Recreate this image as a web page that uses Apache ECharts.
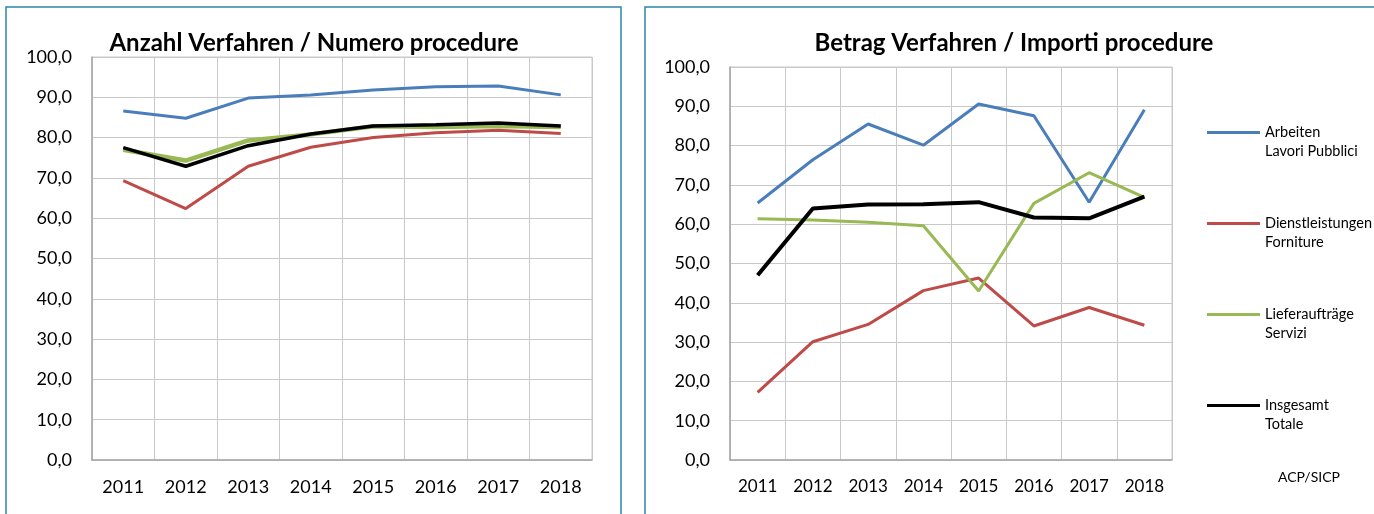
<!DOCTYPE html>
<html>
<head>
<meta charset="utf-8">
<script src="https://cdn.jsdelivr.net/npm/echarts@6/dist/echarts.min.js"></script>
<style>
html,body{margin:0;padding:0;background:#fff;}
#c{width:1374px;height:514px;}
</style>
</head>
<body>
<div id="c"></div>
<script>
var categories = ['2011','2012','2013','2014','2015','2016','2017','2018'];
var yTicks = [0,10,20,30,40,50,60,70,80,90,100];
var seriesNamesDe = ['Arbeiten','Dienstleistungen','Lieferaufträge','Insgesamt'];
var seriesNamesIt = ['Lavori Pubblici','Forniture','Servizi','Totale'];
var titleLeft = 'Anzahl Verfahren / Numero procedure';
var titleRight = 'Betrag Verfahren / Importi procedure';
var sourceNote = 'ACP/SICP';

// Anzahl Verfahren / Numero procedure
var leftArbeiten = [86.6, 84.8, 89.8, 90.6, 91.8, 92.6, 92.8, 90.6];
var leftDienst   = [69.3, 62.4, 72.9, 77.6, 80.0, 81.2, 81.8, 81.0];
var leftLiefer   = [77.0, 74.3, 79.3, 80.8, 82.8, 82.6, 82.9, 82.6];
var leftGesamt   = [77.5, 72.9, 78.0, 80.9, 82.9, 83.2, 83.6, 82.9];

// Betrag Verfahren / Importi procedure
var rightArbeiten = [65.4, 76.4, 85.5, 80.1, 90.6, 87.6, 65.6, 89.1];
var rightDienst   = [17.2, 30.1, 34.5, 43.1, 46.3, 34.1, 38.8, 34.3];
var rightLiefer   = [61.4, 61.1, 60.5, 59.6, 43.0, 65.3, 73.1, 66.8];
var rightGesamt   = [47.0, 64.0, 65.0, 65.1, 65.6, 61.7, 61.5, 67.0];

var colors = ['#4A7EBB', '#BE4B48', '#98B954', '#000000'];
var leftWidths = [3, 3, 4.5, 3.5];
var rightWidths = [3, 3, 3, 4];

var FONT = 'Lato';
var yMin = yTicks[0], yMax = yTicks[yTicks.length-1], yStep = yTicks[1]-yTicks[0];

function fmt(v){ return v.toFixed(1).replace('.', ','); }

function xAxis(gi, size){
  return {
    type:'category', gridIndex:gi, data:categories, boundaryGap:true,
    axisLine:{show:true, lineStyle:{color:'#A6A6A6', width:1.5}},
    axisTick:{show:false},
    axisLabel:{color:'#000', fontFamily:FONT, fontSize:size, margin:18},
    splitLine:{show:true, lineStyle:{color:'#C9C9C9', width:1}}
  };
}
function yAxis(gi){
  return {
    type:'value', gridIndex:gi, min:yMin, max:yMax, interval:yStep,
    axisLine:{show:true, lineStyle:{color:'#A6A6A6', width:1.5}},
    axisTick:{show:false},
    axisLabel:{color:'#000', fontFamily:FONT, fontSize:18, margin:20, formatter:fmt},
    splitLine:{show:true, lineStyle:{color:'#C9C9C9', width:1}}
  };
}

var leftData = [leftArbeiten, leftDienst, leftLiefer, leftGesamt];
var rightData = [rightArbeiten, rightDienst, rightLiefer, rightGesamt];
var series = [];
seriesNamesDe.forEach(function(n,i){
  series.push({name:n, type:'line', xAxisIndex:0, yAxisIndex:0, data:leftData[i],
    symbol:'none', lineStyle:{color:colors[i], width:leftWidths[i]}, itemStyle:{color:colors[i]}, z:2+i});
});
seriesNamesDe.forEach(function(n,i){
  series.push({name:n, type:'line', xAxisIndex:1, yAxisIndex:1, data:rightData[i],
    symbol:'none', lineStyle:{color:colors[i], width:rightWidths[i]}, itemStyle:{color:colors[i]}, z:2+i});
});

var chart = echarts.init(document.getElementById('c'), null, {renderer:'canvas'});
chart.setOption({
  animation:false,
  backgroundColor:'#ffffff',
  title:[
    {text:titleLeft, left:314, top:31, textAlign:'center', padding:0,
     textStyle:{fontFamily:FONT, fontWeight:'bold', fontSize:24, color:'#000'}},
    {text:titleRight, left:1014, top:31, textAlign:'center', padding:0,
     textStyle:{fontFamily:FONT, fontWeight:'bold', fontSize:24, color:'#000'}}
  ],
  grid:[
    {left:92, top:57, width:500, height:403, show:true, borderColor:'#C9C9C9', borderWidth:1},
    {left:730, top:67, width:442, height:393, show:true, borderColor:'#C9C9C9', borderWidth:1}
  ],
  xAxis:[xAxis(0,18), xAxis(1,17)],
  yAxis:[yAxis(0), yAxis(1)],
  legend:{
    orient:'vertical', left:1207, top:104, padding:0, itemWidth:53, itemHeight:3, itemGap:34,
    icon:'rect', selectedMode:false, data:seriesNamesDe,
    formatter:function(name){ return ' \n' + name + '\n' + seriesNamesIt[seriesNamesDe.indexOf(name)]; },
    textStyle:{fontFamily:FONT, fontSize:14.5, color:'#000', lineHeight:19}
  },
  graphic:[
    {type:'rect', silent:true, shape:{x:6, y:7, width:615, height:530},
     style:{fill:'none', stroke:'#2B87A6', lineWidth:1.5}},
    {type:'rect', silent:true, shape:{x:645, y:7, width:800, height:530},
     style:{fill:'none', stroke:'#2B87A6', lineWidth:1.5}},
    {type:'text', left:1278, top:470, silent:true,
     style:{text:sourceNote, fill:'#000', font:'14px Lato'}}
  ],
  series:series
});
</script>
</body>
</html>
